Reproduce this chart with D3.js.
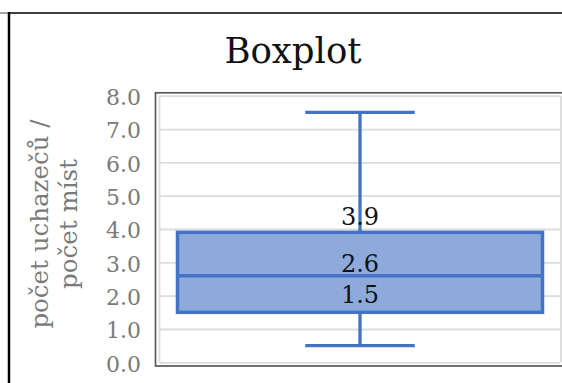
<!DOCTYPE html>
<html>
<head>
<meta charset="utf-8">
<script src="https://cdn.jsdelivr.net/npm/d3@7"></script>
<style>
  html, body { margin: 0; padding: 0; background: #fff; }
  svg { display: block; }
  text { font-family: "DejaVu Serif", serif; }
</style>
</head>
<body>
<svg id="chart" width="562" height="383"></svg>
<script>
// Five-number summary of the applicants-per-place ratio
const category = ["počet uchazečů / počet míst"];
const statNames = ["min", "q1", "median", "q3", "max"];
const statValues = [0.5, 1.5, 2.6, 3.9, 7.5];
// Statistics whose values are printed on the box
const labelledStats = ["q1", "median", "q3"];
const yTickValues = [0, 1, 2, 3, 4, 5, 6, 7, 8];
const titleText = "Boxplot";
const yTitleLines = ["počet uchazečů /", "počet míst"];

const stat = Object.fromEntries(statNames.map((n, i) => [n, statValues[i]]));

const svg = d3.select("#chart");
const W = 562, H = 383;
const plot = { left: 159.5, right: 560.5, top: 95.7, bottom: 362.3 };

const y = d3.scaleLinear().domain([0, 8]).range([plot.bottom, plot.top]);
const x = d3.scaleBand().domain(category).range([plot.left, plot.right]).padding(0.047);

// Outer chart frame
svg.append("line").attr("x1", 0).attr("x2", 8).attr("y1", 13).attr("y2", 13)
  .attr("stroke", "#a6a6a6").attr("stroke-width", 2);
svg.append("line").attr("x1", 8).attr("x2", W).attr("y1", 13).attr("y2", 13)
  .attr("stroke", "#000").attr("stroke-width", 1.5);
svg.append("line").attr("x1", 9).attr("x2", 9).attr("y1", 12).attr("y2", H)
  .attr("stroke", "#000").attr("stroke-width", 2.5);

// Title
svg.append("text").attr("x", 293).attr("y", 62.5).attr("text-anchor", "middle")
  .attr("font-size", 35.5).attr("fill", "#111").text(titleText);

// Plot-area frame
svg.append("rect").attr("x", 155.5).attr("y", 92.8).attr("width", W - 155.5 + 5).attr("height", 366 - 92.8)
  .attr("fill", "none").attr("stroke", "#595959").attr("stroke-width", 1.7);

// Gridlines
const grid = svg.append("g")
  .attr("transform", `translate(${plot.left},0)`)
  .call(d3.axisLeft(y).tickValues(yTickValues).tickSize(-(plot.right - plot.left)).tickFormat(""));
grid.select(".domain").remove();
grid.selectAll(".tick line").attr("stroke", "#dcdcdc").attr("stroke-width", 1.8);
svg.append("line").attr("x1", plot.left).attr("x2", plot.left).attr("y1", plot.top).attr("y2", plot.bottom)
  .attr("stroke", "#dcdcdc").attr("stroke-width", 1.8);
svg.append("line").attr("x1", 561).attr("x2", 561).attr("y1", plot.top).attr("y2", plot.bottom)
  .attr("stroke", "#dcdcdc").attr("stroke-width", 1.8);

// Y axis tick labels
const yAxis = svg.append("g")
  .attr("transform", `translate(141,0)`)
  .call(d3.axisLeft(y).tickValues(yTickValues).tickSize(0).tickPadding(0).tickFormat(d3.format(".1f")));
yAxis.select(".domain").remove();
yAxis.selectAll(".tick text")
  .attr("font-family", "DejaVu Serif, serif").attr("font-size", 22)
  .attr("fill", "#7a7a7a").attr("dy", "0.4em");

// Y axis title (two rotated lines)
const yTitle = svg.append("text")
  .attr("transform", "translate(0,224) rotate(-90)")
  .attr("text-anchor", "middle").attr("font-size", 24.5).attr("fill", "#7a7a7a");
yTitleLines.forEach((t, i) => {
  yTitle.append("tspan").attr("x", 0).attr("y", 47.5 + i * 29.5).text(t);
});

// Box and whiskers
const cx = x(category[0]) + x.bandwidth() / 2;
const capHalf = x.bandwidth() * 0.15;
const blue = "#4472c4";
const g = svg.append("g");

g.append("line").attr("x1", cx).attr("x2", cx).attr("y1", y(stat.max)).attr("y2", y(stat.q3))
  .attr("stroke", blue).attr("stroke-width", 3.3);
g.append("line").attr("x1", cx).attr("x2", cx).attr("y1", y(stat.q1)).attr("y2", y(stat.min))
  .attr("stroke", blue).attr("stroke-width", 3.3);
["max", "min"].forEach(k => {
  g.append("line").attr("x1", cx - capHalf).attr("x2", cx + capHalf)
    .attr("y1", y(stat[k])).attr("y2", y(stat[k]))
    .attr("stroke", blue).attr("stroke-width", 3.3);
});
g.append("rect")
  .attr("x", x(category[0])).attr("width", x.bandwidth())
  .attr("y", y(stat.q3)).attr("height", y(stat.q1) - y(stat.q3))
  .attr("fill", "#8eaadb").attr("stroke", blue).attr("stroke-width", 3.5);
g.append("line").attr("x1", x(category[0])).attr("x2", x(category[0]) + x.bandwidth())
  .attr("y1", y(stat.median)).attr("y2", y(stat.median))
  .attr("stroke", blue).attr("stroke-width", 3.5);

// Value labels
const labelOffset = { q3: -7, median: -4, q1: -9 };
labelledStats.forEach(k => {
  svg.append("text").attr("x", cx).attr("y", y(stat[k]) + labelOffset[k])
    .attr("text-anchor", "middle").attr("font-size", 24).attr("fill", "#111")
    .text(d3.format(".1f")(stat[k]));
});
</script>
</body>
</html>
